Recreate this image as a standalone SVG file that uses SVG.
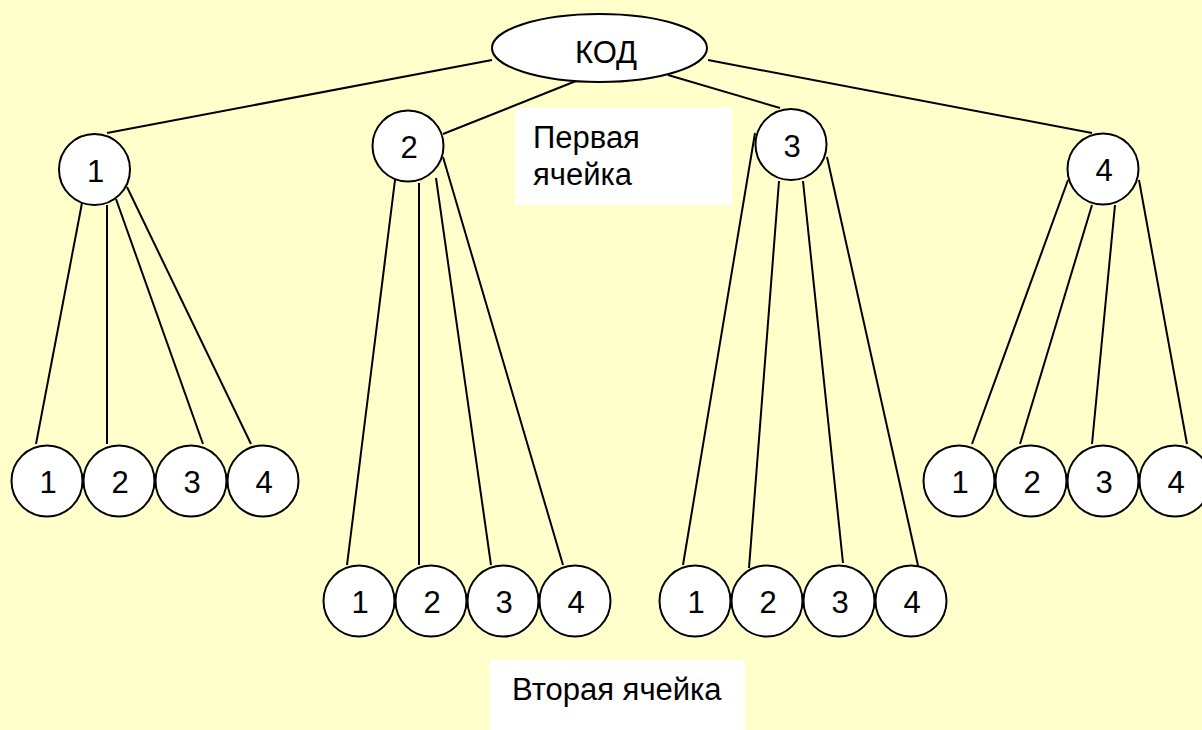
<svg xmlns="http://www.w3.org/2000/svg" width="1202" height="730" viewBox="0 0 1202 730">
<style>
.n{fill:#fff;stroke:#000;stroke-width:2}
.t{font-family:"Liberation Sans",Arial,sans-serif;font-size:31px;fill:#000;text-anchor:middle}
.l{font-family:"Liberation Sans",Arial,sans-serif;font-size:31px;fill:#000}
.c line{stroke:#000;stroke-width:2}
.box{fill:#fff}
</style>
<rect x="0" y="0" width="1202" height="730" fill="#FFFFCC"/>
<g id="connectors" class="c">
<line x1="492" y1="60" x2="107" y2="133"/>
<line x1="576" y1="81" x2="443" y2="134"/>
<line x1="668" y1="75" x2="780" y2="108"/>
<line x1="708" y1="60" x2="1092" y2="133"/>
<line x1="82" y1="203" x2="36" y2="444"/>
<line x1="107" y1="205" x2="107" y2="444"/>
<line x1="116" y1="199" x2="203" y2="444"/>
<line x1="127" y1="187" x2="251" y2="444"/>
<line x1="395" y1="180" x2="347" y2="565"/>
<line x1="419" y1="183" x2="419" y2="565"/>
<line x1="436" y1="178" x2="491" y2="565"/>
<line x1="443" y1="157" x2="563" y2="565"/>
<line x1="755" y1="133" x2="683" y2="565"/>
<line x1="779" y1="181" x2="749" y2="568"/>
<line x1="803" y1="181" x2="843" y2="563"/>
<line x1="827" y1="157" x2="919" y2="570"/>
<line x1="1068" y1="180" x2="972" y2="444"/>
<line x1="1092" y1="205" x2="1020" y2="444"/>
<line x1="1115" y1="205" x2="1092" y2="444"/>
<line x1="1139" y1="180" x2="1187" y2="444"/>
</g>
<g id="root"><ellipse class="n" cx="599.5" cy="48" rx="107.5" ry="34"/><text class="t" x="606" y="63">КОД</text></g>
<g id="n1"><circle class="n" cx="94.5" cy="169.5" r="35.5"/><text class="t" x="95.5" y="182">1</text></g>
<g id="n2"><circle class="n" cx="408" cy="146" r="35.5"/><text class="t" x="409" y="158">2</text></g>
<g id="n3"><circle class="n" cx="791" cy="144.5" r="35.5"/><text class="t" x="792" y="157">3</text></g>
<g id="n4"><circle class="n" cx="1103" cy="169" r="35.5"/><text class="t" x="1104" y="181">4</text></g>
<g id="n1-1"><circle class="n" cx="47" cy="481" r="35.5"/><text class="t" x="48" y="493">1</text></g>
<g id="n1-2"><circle class="n" cx="119" cy="481" r="35.5"/><text class="t" x="120" y="493">2</text></g>
<g id="n1-3"><circle class="n" cx="191" cy="481" r="35.5"/><text class="t" x="192" y="493">3</text></g>
<g id="n1-4"><circle class="n" cx="263" cy="481" r="35.5"/><text class="t" x="264" y="493">4</text></g>
<g id="n2-1"><circle class="n" cx="359" cy="601" r="35.5"/><text class="t" x="360" y="613">1</text></g>
<g id="n2-2"><circle class="n" cx="431" cy="601" r="35.5"/><text class="t" x="432" y="613">2</text></g>
<g id="n2-3"><circle class="n" cx="503" cy="601" r="35.5"/><text class="t" x="504" y="613">3</text></g>
<g id="n2-4"><circle class="n" cx="575" cy="601" r="35.5"/><text class="t" x="576" y="613">4</text></g>
<g id="n3-1"><circle class="n" cx="695" cy="601" r="35.5"/><text class="t" x="696" y="613">1</text></g>
<g id="n3-2"><circle class="n" cx="767" cy="601" r="35.5"/><text class="t" x="768" y="613">2</text></g>
<g id="n3-3"><circle class="n" cx="839" cy="601" r="35.5"/><text class="t" x="840" y="613">3</text></g>
<g id="n3-4"><circle class="n" cx="911" cy="601" r="35.5"/><text class="t" x="912" y="613">4</text></g>
<g id="n4-1"><circle class="n" cx="959" cy="481" r="35.5"/><text class="t" x="960" y="493">1</text></g>
<g id="n4-2"><circle class="n" cx="1031" cy="481" r="35.5"/><text class="t" x="1032" y="493">2</text></g>
<g id="n4-3"><circle class="n" cx="1103" cy="481" r="35.5"/><text class="t" x="1104" y="493">3</text></g>
<g id="n4-4"><circle class="n" cx="1175" cy="481" r="35.5"/><text class="t" x="1176" y="493">4</text></g>
<g id="label1"><rect class="box" x="515" y="108" width="217" height="97"/><text class="l" x="533" y="148">Первая</text><text class="l" x="533" y="185">ячейка</text></g>
<g id="label2"><rect class="box" x="490" y="660" width="255" height="70"/><text class="l" x="512" y="700">Вторая ячейка</text></g>
</svg>
